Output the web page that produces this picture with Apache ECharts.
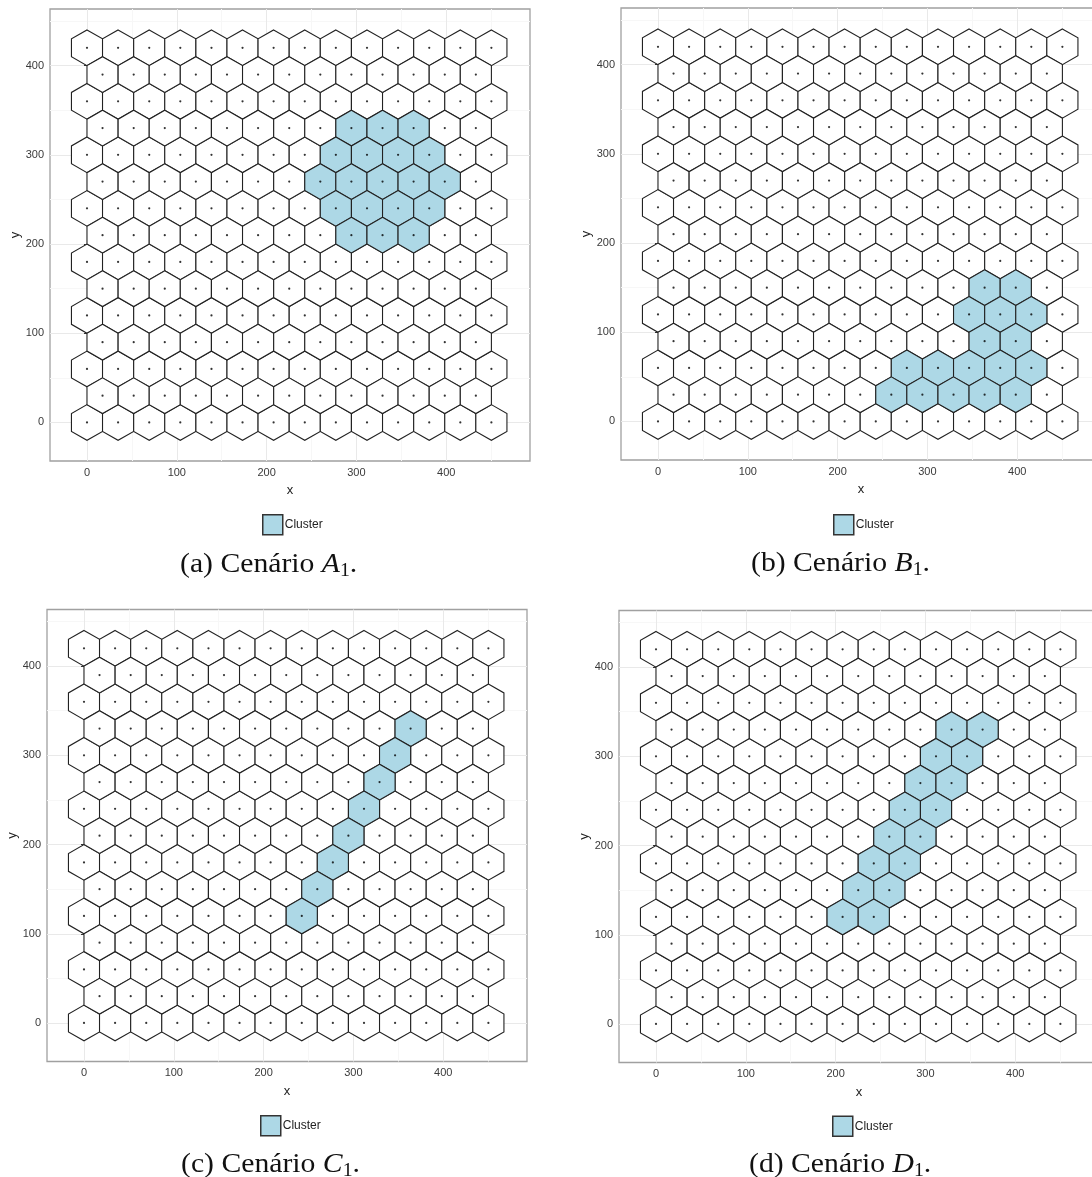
<!DOCTYPE html>
<html><head><meta charset="utf-8">
<style>html,body{margin:0;padding:0;background:#fff;overflow:hidden;width:1092px;height:1177px}#c{width:1110px;height:1177px}</style>
<script src="https://cdn.jsdelivr.net/npm/echarts@6/dist/echarts.min.js"></script>
</head><body><div id="c"></div>
<script>
const xEvenRow=[0,34.6,69.3,103.9,138.6,173.2,207.8,242.5,277.1,311.8,346.4,381.1,415.7,450.3];
const xOddRow=[17.3,52,86.6,121.2,155.9,190.5,225.2,259.8,294.4,329.1,363.7,398.4,433];
const yEvenRows=[0,60,120,180,240,300,360,420];
const yOddRows=[30,90,150,210,270,330,390];
const majorTicks=[0,100,200,300,400];
const minorTicksX=[50,150,250,350,450];
const minorTicksY=[50,150,250,350,450];
const clusterA=[[294.4,330],[329.1,330],[363.7,330],[277.1,300],[311.8,300],[346.4,300],[381.1,300],[259.8,270],[294.4,270],[329.1,270],[363.7,270],[398.4,270],[277.1,240],[311.8,240],[346.4,240],[381.1,240],[294.4,210],[329.1,210],[363.7,210]];
const clusterB=[[363.7,150],[398.4,150],[346.4,120],[381.1,120],[415.7,120],[363.7,90],[398.4,90],[277.1,60],[311.8,60],[346.4,60],[381.1,60],[415.7,60],[259.8,30],[294.4,30],[329.1,30],[363.7,30],[398.4,30]];
const clusterC=[[363.7,330],[346.4,300],[329.1,270],[311.8,240],[294.4,210],[277.1,180],[259.8,150],[242.5,120]];
const clusterD=[[329.1,330],[363.7,330],[311.8,300],[346.4,300],[294.4,270],[329.1,270],[277.1,240],[311.8,240],[259.8,210],[294.4,210],[242.5,180],[277.1,180],[225.2,150],[259.8,150],[207.8,120],[242.5,120]];
const captions=['(a) Cenário {i|A}{s|1}.','(b) Cenário {i|B}{s|1}.','(c) Cenário {i|C}{s|1}.','(d) Cenário {i|D}{s|1}.'];

const allCells=[];
yEvenRows.forEach(y=>xEvenRow.forEach(x=>allCells.push([x,y])));
yOddRows.forEach(y=>xOddRow.forEach(x=>allCells.push([x,y])));

const layouts=[
 {left:50,top:9,leg:[262,514],cap:[180,550]},
 {left:621,top:8,leg:[833,514],cap:[751,549]},
 {left:47,top:609.5,leg:[260,1115],cap:[181,1150]},
 {left:619,top:610.5,leg:[832,1115.5],cap:[749,1150]}
];
const W=480,H=452,HX=17.32,R=20;
const hexRender=(fill)=>(params,api)=>{
  const x=api.value(0),y=api.value(1);
  const pts=[[x,y+R],[x+HX,y+R/2],[x+HX,y-R/2],[x,y-R],[x-HX,y-R/2],[x-HX,y+R/2]].map(p=>api.coord(p));
  return {type:'polygon',shape:{points:pts},style:{fill:fill,stroke:'#222',lineWidth:1.1}};
};
const xAxes=[],yAxes=[],grids=[],series=[],legends=[],graphics=[];
const tickFont={fontFamily:'Liberation Sans',fontSize:11,color:'#3a3a3a'};
[clusterA,clusterB,clusterC,clusterD].forEach((cl,i)=>{
  const L=layouts[i];
  grids.push({left:L.left,top:L.top,width:W,height:H,show:true,backgroundColor:'#fff',borderColor:'#a0a0a0',borderWidth:1.3,z:0});
  const xr={min:-41.2,max:493.3},yr={min:-43.2,max:463.5};
  const minorAxis=(vals)=>({gridIndex:i,type:'value',axisLine:{show:false},axisLabel:{show:false,customValues:vals},
    axisTick:{show:false,customValues:vals},splitLine:{show:true,lineStyle:{color:'#f7f7f7',width:1}}});
  xAxes.push(Object.assign({gridIndex:i,type:'value',position:'bottom',name:'x',nameLocation:'middle',nameGap:23,
    nameTextStyle:{fontFamily:'Liberation Sans',fontSize:13,color:'#222'},
    axisLine:{show:false},axisTick:{show:true,length:3,customValues:majorTicks,lineStyle:{color:'#333'}},
    axisLabel:Object.assign({customValues:majorTicks,margin:6},tickFont),
    splitLine:{show:true,lineStyle:{color:'#e9e9e9',width:1}}},xr));
  xAxes.push(Object.assign(minorAxis(minorTicksX),{position:'top'},xr));
  yAxes.push(Object.assign({gridIndex:i,type:'value',position:'left',name:'y',nameLocation:'middle',nameGap:27,
    nameTextStyle:{fontFamily:'Liberation Sans',fontSize:13,color:'#222'},
    axisLine:{show:false},axisTick:{show:true,length:3,customValues:majorTicks,lineStyle:{color:'#333'}},
    axisLabel:Object.assign({customValues:majorTicks,margin:6},tickFont),
    splitLine:{show:true,lineStyle:{color:'#e9e9e9',width:1}}},yr));
  yAxes.push(Object.assign(minorAxis(minorTicksY),{position:'right'},yr));
  const xi=i*2,yi=i*2;
  const keys=new Set(cl.map(p=>p.join()));
  series.push({type:'custom',name:'Hexagons',xAxisIndex:xi,yAxisIndex:yi,clip:false,silent:true,z:3,
    renderItem:hexRender('#ffffff'),data:allCells.filter(p=>!keys.has(p.join())),encode:{x:0,y:1}});
  series.push({type:'custom',name:'Cluster',xAxisIndex:xi,yAxisIndex:yi,clip:false,silent:true,z:4,
    renderItem:hexRender('#add8e6'),data:cl,encode:{x:0,y:1}});
  series.push({type:'scatter',name:'Centers',xAxisIndex:xi,yAxisIndex:yi,silent:true,z:5,symbol:'circle',symbolSize:2.2,
    itemStyle:{color:'#000'},data:allCells});
  legends.push({left:L.leg[0],top:L.leg[1],orient:'horizontal',itemWidth:20,itemHeight:20,selectedMode:false,padding:0,
    data:[{name:'Cluster',icon:'rect',itemStyle:{color:'#add8e6',borderColor:'#333',borderWidth:1.5}}],
    textStyle:{fontFamily:'Liberation Sans',fontSize:12,color:'#222',padding:[3,0,0,-3]}});
  graphics.push({type:'text',x:L.cap[0],y:L.cap[1],scaleX:1.1,silent:true,z:10,
    style:{text:captions[i],fontFamily:'Liberation Serif',fontSize:27,fill:'#111',
      rich:{i:{fontFamily:'Liberation Serif',fontStyle:'italic',fontSize:27,fill:'#111'},
            s:{fontFamily:'Liberation Serif',fontSize:18,fill:'#111',padding:[12,0,0,0]}}}});
});
const chart=echarts.init(document.getElementById('c'),null,{renderer:'canvas'});
chart.setOption({animation:false,backgroundColor:'#fff',grid:grids,xAxis:xAxes,yAxis:yAxes,series:series,legend:legends,graphic:graphics,tooltip:{show:false}});
</script></body></html>
